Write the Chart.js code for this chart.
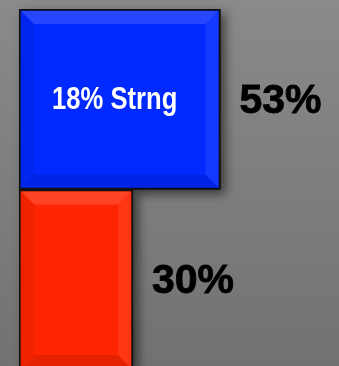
<!DOCTYPE html>
<html><head><meta charset="utf-8">
<script src="https://cdn.jsdelivr.net/npm/chart.js@4/dist/chart.umd.min.js"></script>
<style>html,body{margin:0;padding:0;overflow:hidden;background:#808080}#wrap{width:339px;height:370px}</style>
</head><body><div id="wrap"><canvas id="c" width="339" height="370"></canvas></div>
<script>
const categories = ['A', 'B'];
const values = [53, 30];
const valueLabels = ['53%', '30%'];
const innerLabels = ['18% Strng', ''];
const barColors = ['#0029ff', '#ff2500'];

const bg = {
  id: 'bg',
  beforeDraw(chart) {
    const c = chart.ctx;
    const g = c.createLinearGradient(0, 0, 0, 366);
    g.addColorStop(0, '#8a8a8a');
    g.addColorStop(1, '#727272');
    c.save(); c.fillStyle = g; c.fillRect(0, 0, chart.width, chart.height); c.restore();
  },
  beforeDatasetsDraw(chart) {
    const c = chart.ctx;
    const meta = chart.getDatasetMeta(0);
    c.save();
    meta.data.forEach(b => {
      const x0 = b.base, x1 = b.x, y0 = b.y - b.height / 2, y1 = b.y + b.height / 2;
      c.shadowColor = 'rgba(0,0,0,0.55)';
      c.shadowBlur = 10; c.shadowOffsetX = 5; c.shadowOffsetY = 4;
      c.fillStyle = '#111';
      c.fillRect(x0, y0, x1 - x0, y1 - y0);
    });
    c.restore();
  },
  afterDatasetsDraw(chart) {
    const c = chart.ctx;
    const meta = chart.getDatasetMeta(0);
    meta.data.forEach((b, i) => {
      const x0 = b.base + 2, x1 = b.x - 2, y0 = b.y - b.height / 2 + 2, y1 = b.y + b.height / 2 - 2;
      const w = 13;
      c.save();
      const poly = (pts, col) => { c.beginPath(); c.moveTo(pts[0][0], pts[0][1]); for (let k = 1; k < pts.length; k++) c.lineTo(pts[k][0], pts[k][1]); c.closePath(); c.fillStyle = col; c.fill(); };
      poly([[x0, y0], [x1, y0], [x1 - w, y0 + w], [x0 + w, y0 + w]], 'rgba(255,255,255,0.14)');
      poly([[x1, y0], [x1, y1], [x1 - w, y1 - w], [x1 - w, y0 + w]], 'rgba(255,255,255,0.08)');
      poly([[x0, y1], [x1, y1], [x1 - w, y1 - w], [x0 + w, y1 - w]], 'rgba(0,0,0,0.10)');
      poly([[x0, y0], [x0, y1], [x0 + w, y1 - w], [x0 + w, y0 + w]], 'rgba(0,0,0,0.06)');
      c.restore();
      c.save();
      c.fillStyle = '#000';
      c.font = 'bold 41px "Liberation Sans", Arial, sans-serif';
      c.textAlign = 'left'; c.textBaseline = 'middle';
      c.fillText(valueLabels[i], b.x + 19, b.y + 2);
      c.lineWidth = 0.8; c.strokeStyle = '#000';
      c.strokeText(valueLabels[i], b.x + 19, b.y + 2);
      if (innerLabels[i]) {
        c.fillStyle = '#fff';
        c.font = 'bold 32px "Liberation Sans", Arial, sans-serif';
        c.textAlign = 'center';
        const cx = (b.base + b.x) / 2 - 5;
        c.translate(cx, b.y + 1);
        c.scale(0.8, 1);
        c.fillText(innerLabels[i], 0, 0);
      }
      c.restore();
    });
  }
};

new Chart(document.getElementById('c'), {
  type: 'bar',
  data: { labels: categories, datasets: [{ data: values, backgroundColor: barColors, borderColor: '#111', borderWidth: 2, borderSkipped: false, barPercentage: 1, categoryPercentage: 1 }] },
  options: {
    indexAxis: 'y', responsive: false, animation: false,
    layout: { padding: { left: 19, right: 16, top: 9, bottom: 0 } },
    plugins: { legend: { display: false }, tooltip: { enabled: false } },
    scales: {
      x: { display: false, min: 0, max: 80 },
      y: { display: false }
    }
  },
  plugins: [bg]
});
</script></body></html>
